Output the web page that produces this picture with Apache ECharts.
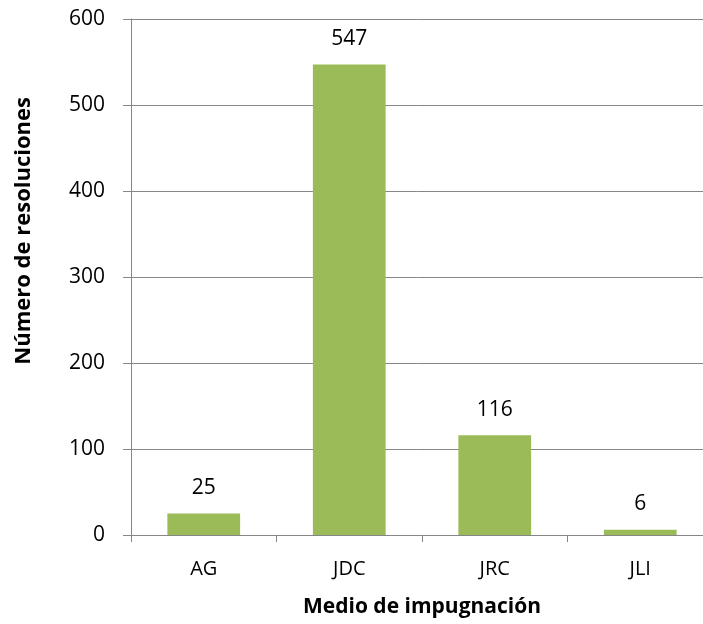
<!DOCTYPE html>
<html><head><meta charset="utf-8">
<script src="https://cdn.jsdelivr.net/npm/echarts@6/dist/echarts.min.js"></script>
<style>html,body{margin:0;padding:0;background:#fff;overflow:hidden}#c{width:703px;height:624px}</style>
</head><body><div id="c"></div>
<script>
const categories = ['AG', 'JDC', 'JRC', 'JLI'];
const values = [25, 547, 116, 6];
const yTicks = [0, 100, 200, 300, 400, 500, 600];
const xTitle = 'Medio de impugnación';
const yTitle = 'Número de resoluciones';

const font = '"Open Sans", Lato, sans-serif';
const chart = echarts.init(document.getElementById('c'), null, {renderer: 'canvas', width: 703, height: 624});
chart.setOption({
  animation: false,
  grid: {left: 131, top: 19, width: 582, height: 516, containLabel: false, outerBoundsMode: 'none'},
  xAxis: {
    type: 'category', data: categories,
    name: xTitle, nameLocation: 'middle', nameGap: 62,
    nameTextStyle: {fontFamily: font, fontWeight: 'bold', fontSize: 21, color: '#000'},
    axisLine: {lineStyle: {color: '#868686', width: 1}},
    axisTick: {show: true, length: 7, lineStyle: {color: '#868686'}},
    axisLabel: {fontFamily: font, fontSize: 20, color: '#000', margin: 24}
  },
  yAxis: {
    type: 'value', min: yTicks[0], max: yTicks[yTicks.length - 1], interval: 100,
    axisLine: {show: true, lineStyle: {color: '#868686'}},
    axisTick: {show: true, length: 8, lineStyle: {color: '#868686'}},
    splitLine: {show: true, lineStyle: {color: '#868686', width: 1}},
    axisLabel: {fontFamily: font, fontSize: 21, color: '#000', margin: 26}
  },
  graphic: [{
    type: 'text', left: 13, top: 97, rotation: Math.PI / 2,
    style: {text: yTitle, fontFamily: font, fontWeight: 'bold', fontSize: 22, fill: '#000'}
  }],
  series: [{
    type: 'bar', data: values, barWidth: '50%',
    itemStyle: {color: '#9BBB59'},
    label: {show: true, position: 'top', distance: 15, fontFamily: font, fontSize: 21, color: '#000'}
  }]
});
</script></body></html>
